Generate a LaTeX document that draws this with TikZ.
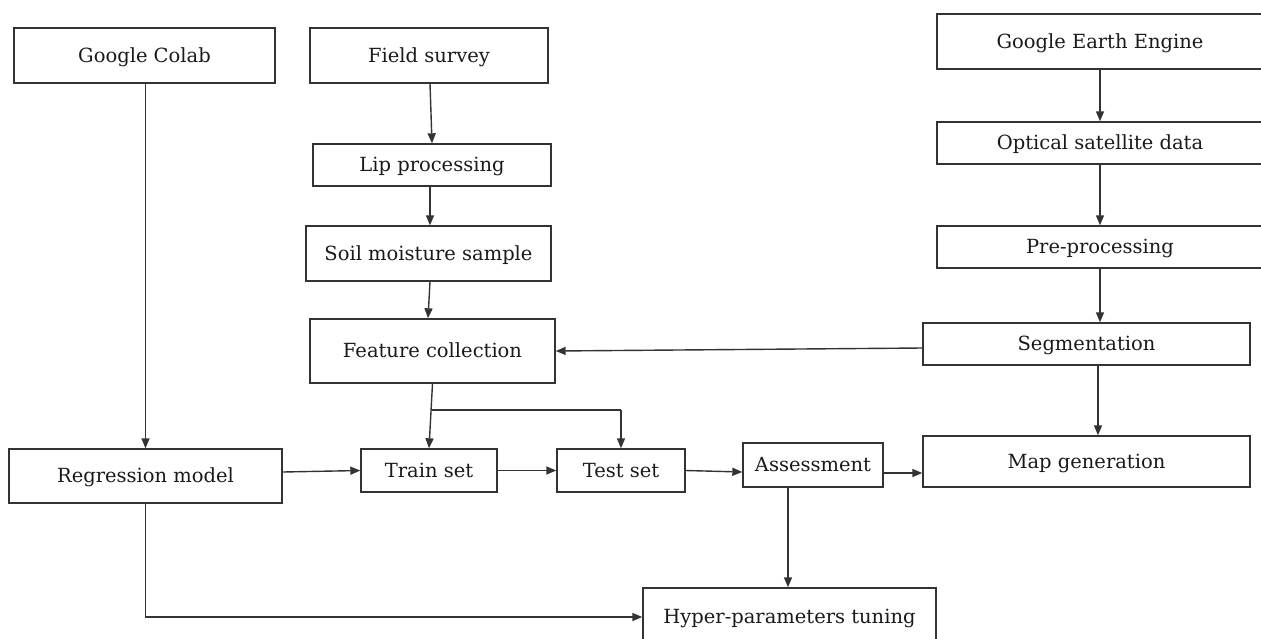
\documentclass[tikz,border=0pt]{standalone}
\usepackage{fontspec}
\setmainfont{DejaVu Serif}
\usetikzlibrary{arrows.meta}
\definecolor{ln}{HTML}{333333}
\definecolor{tx}{HTML}{1a1a1a}
\tikzset{
  box/.style={draw=ln, line width=1.4pt, fill=white, text=tx, font=\fontsize{19.5}{22}\selectfont, inner sep=0pt, text height=1.4em, text depth=0.1em, anchor=center},
  arr/.style={draw=ln, line width=1.4pt, -{Triangle[length=10pt,width=8pt]}},
  ln/.style={draw=ln, line width=1.4pt}
}
\begin{document}
\begin{tikzpicture}[x=1pt,y=-1pt]
\useasboundingbox (0,0) rectangle (1261,638);
\clip (0,0) rectangle (1261,638);
\fill[white] (0,0) rectangle (1261,638);
% left column
\node[box, minimum width=261pt, minimum height=55pt] (colab) at (144.5,55.5) {Google Colab};
\node[box, minimum width=273pt, minimum height=54pt] (reg) at (145.5,476) {Regression model};
% middle column
\node[box, minimum width=238pt, minimum height=55pt] (field) at (429,55.5) {Field survey};
\node[box, minimum width=238pt, minimum height=42pt] (lip) at (432,165) {Lip processing};
\node[box, minimum width=245pt, minimum height=55pt] (soil) at (428.5,253.5) {Soil moisture sample};
\node[box, minimum width=245pt, minimum height=64pt] (feat) at (432.5,351) {Feature collection};
\node[box, minimum width=136pt, minimum height=43pt] (train) at (429,470.5) {Train set};
\node[box, minimum width=128pt, minimum height=43pt] (test) at (621,470.5) {Test set};
\node[box, minimum width=140pt, minimum height=44pt] (assess) at (813,465) {Assessment};
\node[box, minimum width=293pt, minimum height=58pt] (hyper) at (789.5,617) {Hyper-parameters tuning};
% right column
\node[box, minimum width=326pt, minimum height=55pt] (gee) at (1100,41.5) {Google Earth Engine};
\node[box, minimum width=326pt, minimum height=42pt] (opt) at (1100,143) {Optical satellite data};
\node[box, minimum width=326pt, minimum height=42pt] (pre) at (1100,247) {Pre-processing};
\node[box, minimum width=327pt, minimum height=42pt] (seg) at (1086.5,344) {Segmentation};
\node[box, minimum width=327pt, minimum height=51pt] (map) at (1086.5,461.5) {Map generation};
% connectors
\draw[arr] (reg.north |- colab.south) -- (reg.north);
\draw[arr] (field.south -| 430,0) -- (lip.north);
\draw[arr] (lip.south -| 430,0) -- (soil.north -| 430,0);
\draw[arr] (soil.south -| 430,0) -- (feat.north -| 428,0);
\draw[arr] (gee.south) -- (opt.north);
\draw[arr] (opt.south) -- (pre.north);
\draw[arr] (pre.south) -- (seg.north -| pre.south);
\draw[arr] (seg.west |- 0,348) -- (feat.east);
\draw[arr] (seg.south -| 1098,0) -- (map.north -| 1098,0);
\coordinate (br) at (432,410);
\draw[arr] (feat.south) -- (train.north);
\draw[ln] (br) -- (br -| test.north);
\draw[arr] (br -| test.north) -- (test.north);
\draw[arr] (reg.east |- 0,472) -- (train.west);
\draw[arr] (train.east) -- (test.west);
\draw[arr] (test.east) -- (assess.west |- 0,472);
\draw[arr] (assess.east |- 0,473) -- (map.west |- 0,473);
\draw[arr] (assess.south -| 788,0) -- (hyper.north -| 788,0);
\draw[arr] (reg.south) -- (reg.south |- hyper.west) -- (hyper.west);
\end{tikzpicture}
\end{document}
